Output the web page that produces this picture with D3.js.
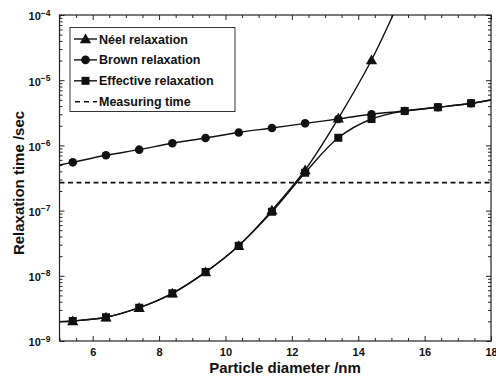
<!DOCTYPE html>
<html>
<head>
<meta charset="utf-8">
<script src="https://cdn.jsdelivr.net/npm/d3@7"></script>
<style>
  body { margin: 0; background: #fff; }
  text { font-family: "Liberation Sans", Arial, sans-serif; font-weight: bold; fill: #111; }
</style>
</head>
<body>
<svg id="chart" width="496" height="381"></svg>
<script>
// Sampled particle diameters (nm) where markers are drawn
const diameters = [5.4, 6.4, 7.4, 8.4, 9.4, 10.4, 11.4, 12.4, 13.4, 14.4, 15.4, 16.4, 17.4];
// Relaxation times (s)
const brown     = [5.5e-7, 7.05e-7, 8.6e-7, 1.08e-6, 1.30e-6, 1.58e-6, 1.85e-6, 2.18e-6, 2.54e-6, 3.0e-6, 3.37e-6, 3.84e-6, 4.43e-6];
const effective = [2.03e-9, 2.31e-9, 3.24e-9, 5.39e-9, 1.14e-8, 2.9e-8, 9.6e-8, 3.81e-7, 1.31e-6, 2.54e-6, 3.37e-6, 3.84e-6, 4.43e-6];
const neelDiameters = [5.4, 6.4, 7.4, 8.4, 9.4, 10.4, 11.4, 12.4, 13.4, 14.4, 15.4];
const neel      = [2.03e-9, 2.31e-9, 3.24e-9, 5.39e-9, 1.14e-8, 2.9e-8, 1.01e-7, 4.2e-7, 2.6e-6, 2.04e-5, 2.5e-4];
// Curve values at the edges of the diameter range
const edgeDiameters = [5, 18];
const brownEdge = [5.0e-7, 4.97e-6];
const effectiveEdge = [1.98e-9, 4.97e-6];
const neelStart = 1.98e-9;
const measuringTime = 2.68e-7;

const xTicks = [6, 8, 10, 12, 14, 16, 18];
const yTicks = [-9, -8, -7, -6, -5, -4];
const legendLabels = ["Néel relaxation", "Brown relaxation", "Effective relaxation", "Measuring time"];

const svg = d3.select("#chart");
const L = 59.5, R = 491, T = 15, B = 341;

const x = d3.scaleLinear().domain([5, 18]).range([L, R]);
const y = d3.scaleLog().domain([1e-9, 1e-4]).range([B, T]);

// Minor tick positions
const xMinor = d3.range(5, 18.01, 0.5).filter(v => !xTicks.includes(v));
const yMinor = [];
for (let e = -9; e < -4; e++) for (let m = 2; m <= 9; m++) yMinor.push(m * Math.pow(10, e));

// Clip region for the plot
svg.append("defs").append("clipPath").attr("id", "plotClip")
  .append("rect").attr("x", L).attr("y", T).attr("width", R - L).attr("height", B - T);

// Axes: bottom/left with labels, top/right mirrors; ticks point inward
const gx = svg.append("g").attr("transform", `translate(0,${B})`)
  .call(d3.axisBottom(x).tickValues(xTicks).tickSize(-5).tickPadding(7).tickFormat(d3.format("d")));
gx.selectAll("text").style("font-size", "11px");
svg.append("g").attr("transform", `translate(0,${B})`)
  .call(d3.axisBottom(x).tickValues(xMinor).tickSize(-3).tickFormat(""));
svg.append("g").attr("transform", `translate(0,${T})`)
  .call(d3.axisTop(x).tickValues(xTicks).tickSize(-5).tickFormat(""));
svg.append("g").attr("transform", `translate(0,${T})`)
  .call(d3.axisTop(x).tickValues(xMinor).tickSize(-3).tickFormat(""));

const gy = svg.append("g").attr("transform", `translate(${L},0)`)
  .call(d3.axisLeft(y).tickValues(yTicks.map(e => Math.pow(10, e))).tickSize(-5).tickPadding(9).tickFormat(""));
svg.append("g").attr("transform", `translate(${L},0)`)
  .call(d3.axisLeft(y).tickValues(yMinor).tickSize(-3).tickFormat(""));
svg.append("g").attr("transform", `translate(${R},0)`)
  .call(d3.axisRight(y).tickValues(yTicks.map(e => Math.pow(10, e))).tickSize(-5).tickFormat(""));
svg.append("g").attr("transform", `translate(${R},0)`)
  .call(d3.axisRight(y).tickValues(yMinor).tickSize(-3).tickFormat(""));

// Power-of-ten labels
gy.selectAll(".tick").each(function(d) {
  const t = d3.select(this).select("text");
  const e = Math.round(Math.log10(d));
  t.text(null).attr("text-anchor", "end").attr("dy", "0.35em").attr("x", -9).attr("y", 1)
    .style("font-size", "11px");
  t.append("tspan").text("10");
  t.append("tspan").attr("dy", "-0.55em").style("font-size", "8.5px").text(String(e).replace("-", "−"));
});

svg.selectAll(".domain").attr("stroke", "none");
svg.selectAll(".tick line").attr("stroke", "#222").attr("stroke-width", 1);

// Frame
svg.append("rect").attr("x", L).attr("y", T).attr("width", R - L).attr("height", B - T)
  .attr("fill", "none").attr("stroke", "#222").attr("stroke-width", 1.2);

const plot = svg.append("g").attr("clip-path", "url(#plotClip)");
const line = d3.line().x(d => x(d[0])).y(d => y(d[1])).curve(d3.curveCatmullRom.alpha(0.5));

const neelCurve = [[edgeDiameters[0], neelStart], ...neelDiameters.map((d, i) => [d, neel[i]])];
const brownCurve = [[edgeDiameters[0], brownEdge[0]], ...diameters.map((d, i) => [d, brown[i]]), [edgeDiameters[1], brownEdge[1]]];
const effCurve = [[edgeDiameters[0], effectiveEdge[0]], ...diameters.map((d, i) => [d, effective[i]]), [edgeDiameters[1], effectiveEdge[1]]];

// Measuring time (dashed)
plot.append("line").attr("x1", x(5)).attr("x2", x(18))
  .attr("y1", y(measuringTime)).attr("y2", y(measuringTime))
  .attr("stroke", "#111").attr("stroke-width", 1.8).attr("stroke-dasharray", "5,3.5");

[neelCurve, brownCurve, effCurve].forEach(c => {
  plot.append("path").datum(c).attr("d", line)
    .attr("fill", "none").attr("stroke", "#111").attr("stroke-width", 1.4);
});

const tri = d3.symbol().type(d3.symbolTriangle).size(55);
const sq = d3.symbol().type(d3.symbolSquare).size(64);

// Néel markers
plot.selectAll(".neel").data(neelDiameters.map((d, i) => [d, neel[i]]).filter(p => p[1] <= 1e-4))
  .join("path").attr("class", "neel").attr("d", tri)
  .attr("transform", p => `translate(${x(p[0])},${y(p[1]) + 1})`).attr("fill", "#111");
// Brown markers
plot.selectAll(".brown").data(diameters.map((d, i) => [d, brown[i]]))
  .join("circle").attr("class", "brown").attr("r", 4.3)
  .attr("cx", p => x(p[0])).attr("cy", p => y(p[1])).attr("fill", "#111");
// Effective markers
plot.selectAll(".eff").data(diameters.map((d, i) => [d, effective[i]]))
  .join("path").attr("class", "eff").attr("d", sq)
  .attr("transform", p => `translate(${x(p[0])},${y(p[1])})`).attr("fill", "#111");

// Axis titles
svg.append("text").attr("x", 285).attr("y", 373).attr("text-anchor", "middle")
  .style("font-size", "15px").text("Particle diameter /nm");
svg.append("text").attr("transform", "translate(24,183) rotate(-90)").attr("text-anchor", "middle")
  .style("font-size", "15px").text("Relaxation time /sec");

// Legend
const lg = svg.append("g");
lg.append("rect").attr("x", 70).attr("y", 27.5).attr("width", 165).attr("height", 84)
  .attr("fill", "#fff").attr("stroke", "#333").attr("stroke-width", 1);
const markers = ["tri", "circle", "sq", null];
legendLabels.forEach((lab, i) => {
  const cy = 39 + i * 20.9;
  if (i < 3) {
    lg.append("line").attr("x1", 74).attr("x2", 97).attr("y1", cy).attr("y2", cy)
      .attr("stroke", "#111").attr("stroke-width", 1.4);
    if (markers[i] === "tri") lg.append("path").attr("d", tri).attr("transform", `translate(85.5,${cy + 1})`).attr("fill", "#111");
    if (markers[i] === "circle") lg.append("circle").attr("cx", 85.5).attr("cy", cy).attr("r", 4.3).attr("fill", "#111");
    if (markers[i] === "sq") lg.append("path").attr("d", sq).attr("transform", `translate(85.5,${cy})`).attr("fill", "#111");
  } else {
    lg.append("line").attr("x1", 75).attr("x2", 97).attr("y1", cy).attr("y2", cy)
      .attr("stroke", "#111").attr("stroke-width", 1.6).attr("stroke-dasharray", "5,4");
  }
  lg.append("text").attr("x", 99).attr("y", cy).attr("dy", "0.36em").style("font-size", "12.5px").text(lab);
});
</script>
</body>
</html>
